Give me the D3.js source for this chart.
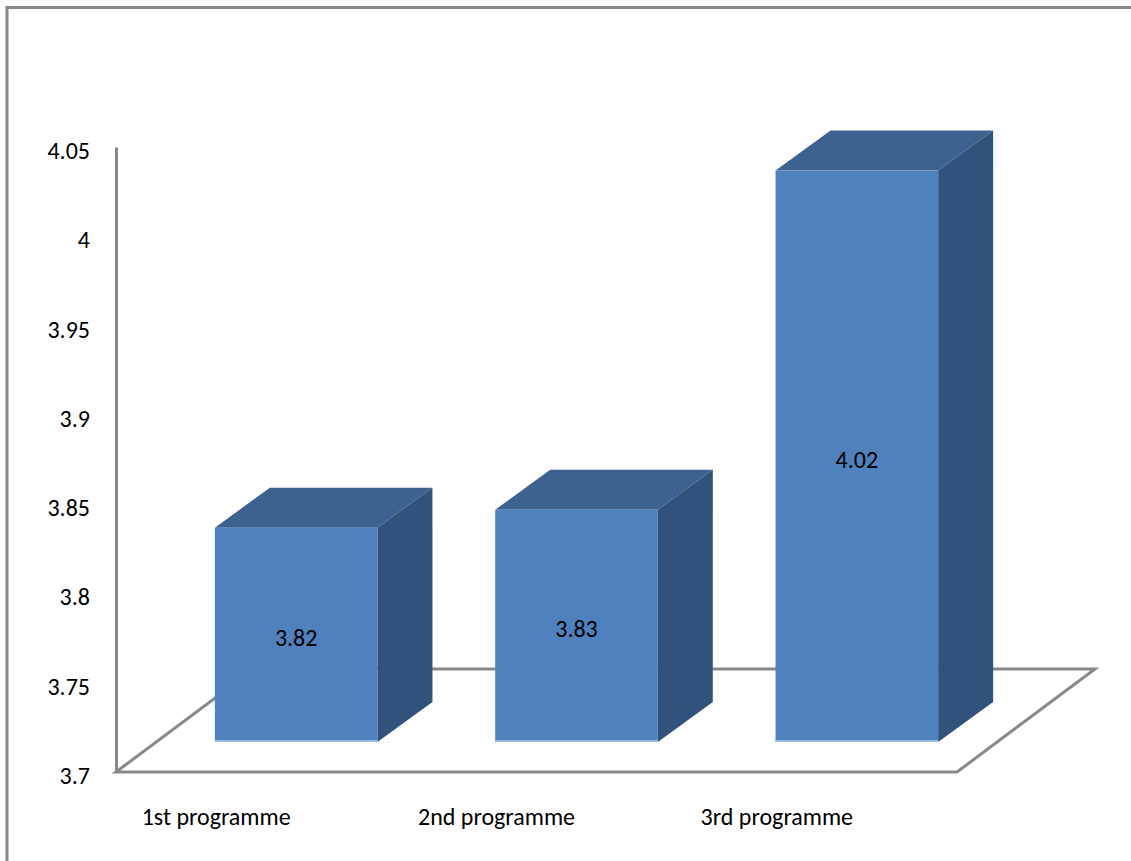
<!DOCTYPE html>
<html>
<head>
  <title>Programme scores</title>
  <style>
    body {
      margin: 0;
      padding: 0;
      background-color: #fff;
      overflow: hidden;
    }
    text {
      font-family: Carlito, Lato, "Open Sans", sans-serif;
      font-size: 24px;
      fill: #000;
    }
  </style>
</head>
<body>
  <div id="chart"></div>

  <script src="https://d3js.org/d3.v7.min.js"></script>
  <script>
    const categories = ['1st programme', '2nd programme', '3rd programme'];
    const values = [3.82, 3.83, 4.02];
    const yTicks = [3.7, 3.75, 3.8, 3.85, 3.9, 3.95, 4, 4.05];

    const width = 1131, height = 861;
    const grey = '#898989';

    // 3d offsets: floor depth, bar front plane shift, bar depth
    const floorDx = 138, floorDy = -103;
    const offX = 40, offY = -30;
    const barDx = 55, barDy = -40;

    const svg = d3.select('#chart')
      .append('svg')
      .attr('width', width)
      .attr('height', height);

    // outer frame (top + left edge only visible)
    svg.append('line')
      .attr('x1', 6).attr('y1', 7.5).attr('x2', width).attr('y2', 7.5)
      .attr('stroke', grey).attr('stroke-width', 3);
    svg.append('line')
      .attr('x1', 7).attr('y1', 6).attr('x2', 7).attr('y2', height)
      .attr('stroke', grey).attr('stroke-width', 3);

    const y = d3.scaleLinear().domain([3.7, 4.05]).range([772, 147]);
    const x = d3.scaleBand()
      .domain(categories)
      .range([116, 957])
      .paddingInner(0.42)
      .paddingOuter(0.21);

    const x0 = 116, x1 = 957, yb = y(3.7);

    // floor outline
    const floor = svg.append('g')
      .attr('stroke', grey).attr('stroke-width', 3).attr('fill', 'none');
    floor.append('path')
      .attr('d', `M${x0},${yb}L${x0 + floorDx},${yb + floorDy}L${x1 + floorDx},${yb + floorDy}L${x1},${yb}Z`)
      .attr('stroke-linejoin', 'miter');

    // y axis
    const yAxis = svg.append('g')
      .attr('transform', `translate(${x0},0)`)
      .call(d3.axisLeft(y)
        .tickValues(yTicks)
        .tickSize(0)
        .tickPadding(26)
        .tickFormat(d => String(+d.toFixed(2))));
    yAxis.select('.domain').attr('stroke', grey).attr('stroke-width', 3);
    yAxis.selectAll('text')
      .attr('dy', '0.48em')
      .style('font-family', 'Carlito, Lato, "Open Sans", sans-serif')
      .style('font-size', '24px')
      .attr('fill', '#000');

    // category labels
    svg.append('g')
      .selectAll('text')
      .data(categories)
      .enter().append('text')
      .attr('x', d => x(d) + x.bandwidth() / 2 - offX)
      .attr('y', 825)
      .attr('text-anchor', 'middle')
      .text(d => d);

    // bars
    const bars = svg.append('g')
      .selectAll('g')
      .data(categories.map((c, i) => ({ c, v: values[i] })))
      .enter().append('g');

    bars.each(function (d) {
      const g = d3.select(this);
      const bx0 = x(d.c) + offX;
      const bx1 = bx0 + x.bandwidth();
      const top = y(d.v) + offY;
      const bot = y(3.7) + offY;

      g.append('path')
        .attr('d', `M${bx0},${top}L${bx0 + barDx},${top + barDy}L${bx1 + barDx},${top + barDy}L${bx1},${top}Z`)
        .attr('fill', '#3D628F');
      g.append('path')
        .attr('d', `M${bx1},${top}L${bx1 + barDx},${top + barDy}L${bx1 + barDx},${bot + barDy}L${bx1},${bot}Z`)
        .attr('fill', '#31527A');
      g.append('rect')
        .attr('x', bx0).attr('y', top)
        .attr('width', bx1 - bx0).attr('height', bot - top)
        .attr('fill', '#4F81BD');
      g.append('line')
        .attr('x1', bx0).attr('x2', bx1)
        .attr('y1', bot - 1).attr('y2', bot - 1)
        .attr('stroke', '#9CBBE0').attr('stroke-width', 2);
      g.append('text')
        .attr('x', (bx0 + bx1) / 2)
        .attr('y', (top + bot) / 2)
        .attr('dy', '0.48em')
        .attr('text-anchor', 'middle')
        .text(d.v.toFixed(2));
    });
  </script>
</body>
</html>
